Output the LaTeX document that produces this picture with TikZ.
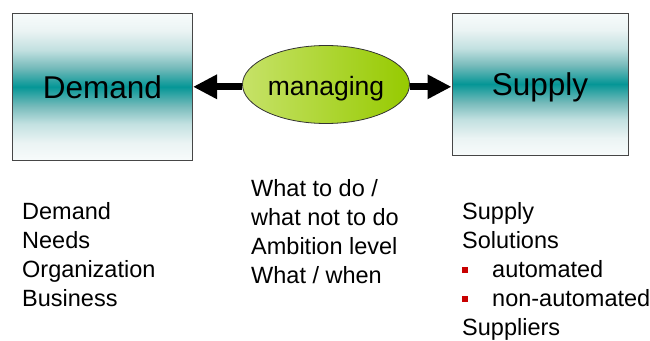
\documentclass[tikz,border=0pt]{standalone}
\usepackage{fontspec}
\setmainfont{Liberation Sans}
\usetikzlibrary{arrows.meta,shapes.geometric}
\definecolor{boxedge}{RGB}{70,70,70}
\definecolor{leafleft}{RGB}{198,226,104}
\definecolor{leafright}{RGB}{150,202,0}
\definecolor{bulletred}{RGB}{200,0,0}
% white -> teal -> white band across the height of a box
\pgfdeclareverticalshading{tealband}{100bp}{
  rgb(0bp)=(0.97,0.985,0.985);
  rgb(25bp)=(0.97,0.985,0.985);
  rgb(31bp)=(0.92,0.955,0.955);
  rgb(37.5bp)=(0.76,0.88,0.88);
  rgb(43.5bp)=(0.46,0.73,0.73);
  rgb(50bp)=(0.02,0.59,0.59);
  rgb(56.5bp)=(0.46,0.73,0.73);
  rgb(62.5bp)=(0.76,0.88,0.88);
  rgb(69bp)=(0.92,0.955,0.955);
  rgb(75bp)=(0.97,0.985,0.985);
  rgb(100bp)=(0.97,0.985,0.985)}
\tikzset{
  tealbox/.style={draw=boxedge, line width=1pt, inner sep=0pt,
    shading=tealband,
    text height=22.6pt, text depth=0pt,
    font=\fontsize{31.5}{36}\selectfont},
  hub/.style={ellipse, draw=black!80, line width=0.8pt, inner sep=0pt,
    left color=leafleft, right color=leafright,
    minimum width=167pt, minimum height=78pt,
    text height=21pt, text depth=0pt,
    font=\fontsize{26.5}{30}\selectfont},
  fatarrow/.style={line width=7pt,
    -{Triangle[length=24pt,width=23pt]}},
  listline/.style={anchor=base west, inner sep=0pt,
    font=\fontsize{23.5}{29}\selectfont},
  redbullet/.style={fill=bulletred, draw=none, inner sep=0pt,
    minimum size=6pt},
}
\begin{document}
\begin{tikzpicture}[x=1pt,y=-1pt]
\useasboundingbox (0,0) rectangle (650,340);

% the two end boxes
\node[tealbox, minimum width=180pt, minimum height=147pt] (demand) at (102.5,86.8) {Demand};
\node[tealbox, minimum width=176pt, minimum height=142pt] (supply) at (540,84) {Supply};

% central ellipse
\node[hub] (hub) at (326,84.5) {managing};

% arrows from the ellipse out to both boxes
\draw[fatarrow] (hub.west |- demand.east) -- (demand.east);
\draw[fatarrow] (hub.east |- demand.east) -- (demand.east -| supply.west);

% demand column
\node[listline] (d1) at (22,219.5) {Demand};
\node[listline] (d2) at (22,248.5) {Needs};
\node[listline] (d3) at (22,277.5) {Organization};
\node[listline] (d4) at (22,306.5) {Business};

% managing column
\node[listline] (m1) at (251,196.5) {What to do /};
\node[listline] (m2) at (251,225.5) {what not to do};
\node[listline] (m3) at (251,254.5) {Ambition level};
\node[listline] (m4) at (251,283.5) {What / when};

% supply column
\node[listline] (s1) at (462,219.5) {Supply};
\node[listline] (s2) at (462,248.5) {Solutions};
\node[redbullet] (b1) at (465,270) {};
\node[listline] (s3) at (492,277.5) {automated};
\node[redbullet] (b2) at (465,299) {};
\node[listline] (s4) at (492,306.5) {non-automated};
\node[listline] (s5) at (462,335.5) {Suppliers};
\end{tikzpicture}
\end{document}
